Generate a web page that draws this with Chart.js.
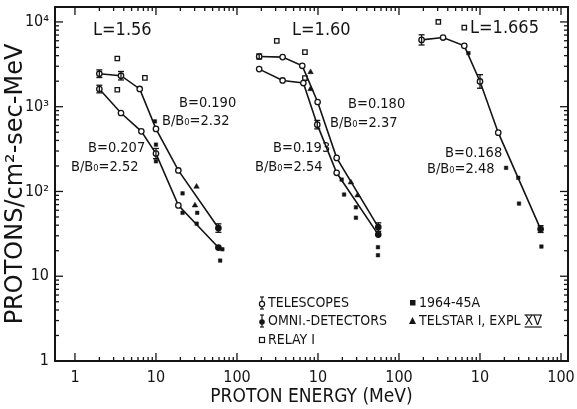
<!DOCTYPE html>
<html>
<head>
<meta charset="utf-8">
<style>
  html, body { margin: 0; padding: 0; background: #fff; }
  #wrap { width: 577px; height: 409px; }
</style>
<script src="https://cdn.jsdelivr.net/npm/chart.js@4.4.1/dist/chart.umd.min.js"></script>
</head>
<body>
<div id="wrap"><canvas id="chart" width="577" height="409"></canvas></div>
<script>
// The three L shells share one log energy axis, each shifted by two decades
const PANEL_SHIFT = [1, 100, 10000];

// L = 1.56
const l156HighE = [2.0, 3.7, 6.3, 10, 18.9, 59];
const l156HighFlux = [2450, 2320, 1620, 547, 177, 37];
const l156LowE = [2.0, 3.7, 6.6, 10, 18.9, 59];
const l156LowFlux = [1615, 843, 512, 280, 68.5, 21.8];
// L = 1.60
const l160HighE = [1.88, 3.66, 6.4, 9.9, 17, 55.5];
const l160HighFlux = [3910, 3845, 3035, 1136, 249, 38];
const l160LowE = [1.88, 3.66, 6.6, 9.8, 17, 55.5];
const l160LowFlux = [2775, 2040, 1900, 614, 166, 31];
// L = 1.665
const l1665E = [1.9, 3.5, 6.4, 10, 16.8, 56];
const l1665Flux = [6140, 6540, 5220, 1985, 494, 36];

// error bar half widths, in decades (0 = none)
const l156HighErr = [0.045, 0.05, 0, 0, 0, 0.05];
const l156LowErr = [0.045, 0, 0, 0.06, 0, 0];
const l160HighErr = [0.03, 0, 0, 0, 0, 0.05];
const l160LowErr = [0, 0, 0, 0.05, 0, 0];
const l1665Err = [0.06, 0, 0, 0.08, 0, 0.04];

// scattered points, one list per panel
const relayE = [[3.33, 7.3, 3.33], [3.1, 6.9, 6.9], [3.06, 6.4]];
const relayFlux = [[3700, 2190, 1585], [5980, 4400, 2177], [10000, 8570]];
const sat6445E = [[9.7, 10, 10, 21.3, 21.3, 32.3, 31.8, 66, 62], [19.6, 21, 29.4, 29.4, 55, 55], [7.2, 21, 29.7, 30.3, 57.3]];
const sat6445Flux = [[671, 357, 227, 95, 56, 56, 41.7, 20.8, 15.3], [138, 92, 65, 49, 22, 17.7], [4280, 190, 145, 72, 22.4]];
const telstarE = [[31.7, 30.3], [8.1, 8.1, 25.5, 30.8], []];
const telstarFlux = [[114, 68.5], [2560, 1615, 128, 90], []];

const xTicks = [1, 10, 100, 1e3, 1e4, 1e5, 1e6];
const xTickLabels = ['1', '10', '100', '10', '100', '10', '100'];
const yTicks = [1, 10, 100, 1000, 10000];
const yTickLabels = ['1', '10', '10²', '10³', '10⁴'];

const INK = '#141414';
const FONT = "'DejaVu Sans Condensed', 'Liberation Sans Narrow', 'DejaVu Sans', sans-serif";

function pts(es, fluxes, panel) {
  return es.map((e, i) => ({ x: e * PANEL_SHIFT[panel], y: fluxes[i] }));
}
function flat(esList, fluxList) {
  return esList.flatMap((es, p) => pts(es, fluxList[p], p));
}

function curve(es, fluxes, panel, err) {
  return {
    data: pts(es, fluxes, panel),
    showLine: true,
    borderColor: INK,
    borderWidth: 1.6,
    pointStyle: 'circle',
    pointRadius: 2.7,
    pointBorderWidth: 1.3,
    pointBorderColor: INK,
    pointBackgroundColor: ctx => ctx.dataIndex === es.length - 1 ? INK : '#fff',
    errLog: err
  };
}

const datasets = [
  curve(l156HighE, l156HighFlux, 0, l156HighErr),
  curve(l156LowE, l156LowFlux, 0, l156LowErr),
  curve(l160HighE, l160HighFlux, 1, l160HighErr),
  curve(l160LowE, l160LowFlux, 1, l160LowErr),
  curve(l1665E, l1665Flux, 2, l1665Err),
  { data: flat(relayE, relayFlux), showLine: false, pointStyle: 'rect', pointRadius: 3.1,
    pointBorderWidth: 1.3, pointBorderColor: INK, pointBackgroundColor: '#fff' },
  { data: flat(sat6445E, sat6445Flux), showLine: false, pointStyle: 'rect', pointRadius: 2.5,
    pointBorderWidth: 0.5, pointBorderColor: INK, pointBackgroundColor: INK },
  { data: flat(telstarE, telstarFlux), showLine: false, pointStyle: 'triangle', pointRadius: 3.2,
    pointBorderWidth: 0.5, pointBorderColor: INK, pointBackgroundColor: INK }
];

function seg(ctx, x1, y1, x2, y2) {
  ctx.beginPath(); ctx.moveTo(x1, y1); ctx.lineTo(x2, y2); ctx.stroke();
}

// error bars on the curve points
const errorBars = {
  id: 'errorBars',
  afterDatasetsDraw(chart) {
    const { ctx, scales: { y } } = chart;
    ctx.save();
    ctx.strokeStyle = INK;
    ctx.lineWidth = 1.3;
    chart.data.datasets.forEach((ds, i) => {
      if (!ds.errLog) return;
      const meta = chart.getDatasetMeta(i);
      ds.errLog.forEach((e, j) => {
        if (!e) return;
        const v = ds.data[j].y;
        const px = meta.data[j].x;
        const top = y.getPixelForValue(v * Math.pow(10, e));
        const bot = y.getPixelForValue(v / Math.pow(10, e));
        seg(ctx, px, top, px, bot);
        seg(ctx, px - 3, top, px + 3, top);
        seg(ctx, px - 3, bot, px + 3, bot);
      });
    });
    ctx.restore();
  }
};

// frame with inward ticks on all four sides, plus the panel labels and legend
const frame = {
  id: 'frame',
  afterDraw(chart) {
    const { ctx, chartArea: a, scales: { x, y } } = chart;
    ctx.save();
    ctx.strokeStyle = INK;
    ctx.lineWidth = 2;
    ctx.strokeRect(a.left, a.top, a.right - a.left, a.bottom - a.top);
    ctx.lineWidth = 1.3;
    for (let d = 1; d <= 1e6; d *= 10) {
      for (let m = 1; m < 10; m++) {
        const v = d * m;
        if (v < x.min || v > x.max) continue;
        const px = x.getPixelForValue(v);
        const len = m === 1 ? 8 : 4;
        seg(ctx, px, a.bottom, px, a.bottom - len);
        seg(ctx, px, a.top, px, a.top + len);
      }
    }
    for (let d = 1; d <= 1e4; d *= 10) {
      for (let m = 1; m < 10; m++) {
        const v = d * m;
        if (v < y.min || v > y.max) continue;
        const py = y.getPixelForValue(v);
        const len = m === 1 ? 8 : 4;
        seg(ctx, a.left, py, a.left + len, py);
        seg(ctx, a.right, py, a.right - len, py);
      }
    }

    ctx.fillStyle = INK;
    ctx.textBaseline = 'middle';
    ctx.textAlign = 'left';
    ctx.font = '18px ' + FONT;
    ctx.fillText('L=1.56', 93, 30);
    ctx.fillText('L=1.60', 292, 30);
    ctx.fillText('L=1.665', 470, 28);

    ctx.font = '14.5px ' + FONT;
    const notes = [
      ['B=0.190', 179, 103], ['B/B₀=2.32', 162, 121],
      ['B=0.207', 88, 148], ['B/B₀=2.52', 71, 167],
      ['B=0.180', 348, 104], ['B/B₀=2.37', 330, 123],
      ['B=0.193', 273, 148], ['B/B₀=2.54', 255, 167],
      ['B=0.168', 445, 153], ['B/B₀=2.48', 427, 169]
    ];
    notes.forEach(([t, tx, ty]) => ctx.fillText(t, tx, ty));

    // legend
    ctx.font = '14px ' + FONT;
    ctx.fillText('TELESCOPES', 268, 303);
    ctx.fillText('OMNI.-DETECTORS', 268, 321);
    ctx.fillText('RELAY Ⅰ', 268, 340);
    ctx.fillText('1964-45A', 419, 303);
    const tl = 'TELSTAR Ⅰ, EXPL ';
    ctx.fillText(tl, 419, 321);
    const xvX = 419 + ctx.measureText(tl).width;
    ctx.fillText('XV', xvX, 321);
    const xvW = ctx.measureText('XV').width;
    ctx.lineWidth = 1.2;
    seg(ctx, xvX, 315, xvX + xvW, 315);
    seg(ctx, xvX, 327, xvX + xvW, 327);

    ctx.lineWidth = 1.2;
    // telescope: open circle with bar
    seg(ctx, 262, 297, 262, 309);
    seg(ctx, 260, 297, 264, 297); seg(ctx, 260, 309, 264, 309);
    ctx.beginPath(); ctx.arc(262, 304, 2.6, 0, Math.PI * 2);
    ctx.fillStyle = '#fff'; ctx.fill(); ctx.stroke();
    // omni-detector: filled circle with bar
    ctx.fillStyle = INK;
    seg(ctx, 262, 315, 262, 327);
    seg(ctx, 260, 315, 264, 315); seg(ctx, 260, 327, 264, 327);
    ctx.beginPath(); ctx.arc(262, 322, 2.8, 0, Math.PI * 2); ctx.fill();
    // relay: open square
    ctx.strokeRect(259.5, 337.5, 5, 5);
    // 1964-45A: filled square
    ctx.fillRect(410, 300, 5.5, 5.5);
    // telstar: filled triangle
    ctx.beginPath(); ctx.moveTo(412.5, 317); ctx.lineTo(416, 324); ctx.lineTo(409, 324);
    ctx.closePath(); ctx.fill();
    ctx.restore();
  }
};

// fixed axis sizes, no extra edge padding for the end labels
function fixBox(s, size) {
  if (s.isHorizontal()) s.height = size; else s.width = size;
  s.paddingTop = 0; s.paddingBottom = 0; s.paddingLeft = 0; s.paddingRight = 0;
}

new Chart(document.getElementById('chart'), {
  type: 'scatter',
  data: { datasets },
  options: {
    responsive: false,
    animation: false,
    layout: { padding: { top: 7, right: 9, left: 0, bottom: 0 } },
    plugins: { legend: { display: false }, tooltip: { enabled: false } },
    scales: {
      x: {
        type: 'logarithmic',
        min: 0.567,
        max: 1.22e6,
        afterBuildTicks: s => { s.ticks = xTicks.map(v => ({ value: v })); },
        afterFit: s => fixBox(s, 48),
        grid: { display: false, drawTicks: false },
        border: { display: false },
        ticks: {
          autoSkip: false, maxRotation: 0, padding: 7, color: INK,
          font: { family: FONT, size: 16 },
          callback: (v, i) => xTickLabels[i]
        },
        title: {
          display: true, text: 'PROTON ENERGY (MeV)', color: INK,
          font: { family: FONT, size: 19 }, padding: { top: 0, bottom: 1 }
        }
      },
      y: {
        type: 'logarithmic',
        min: 1,
        max: 15000,
        afterBuildTicks: s => { s.ticks = yTicks.map(v => ({ value: v })); },
        afterFit: s => fixBox(s, 55),
        grid: { display: false, drawTicks: false },
        border: { display: false },
        ticks: {
          autoSkip: false, padding: 6, color: INK,
          font: { family: FONT, size: 16 },
          callback: (v, i) => yTickLabels[i]
        },
        title: {
          display: true, text: 'PROTONS/cm²-sec-MeV', color: INK,
          font: { family: "'DejaVu Sans', sans-serif", size: 24 }, padding: { top: 1, bottom: 0 }
        }
      }
    }
  },
  plugins: [errorBars, frame]
});
</script>
</body>
</html>
